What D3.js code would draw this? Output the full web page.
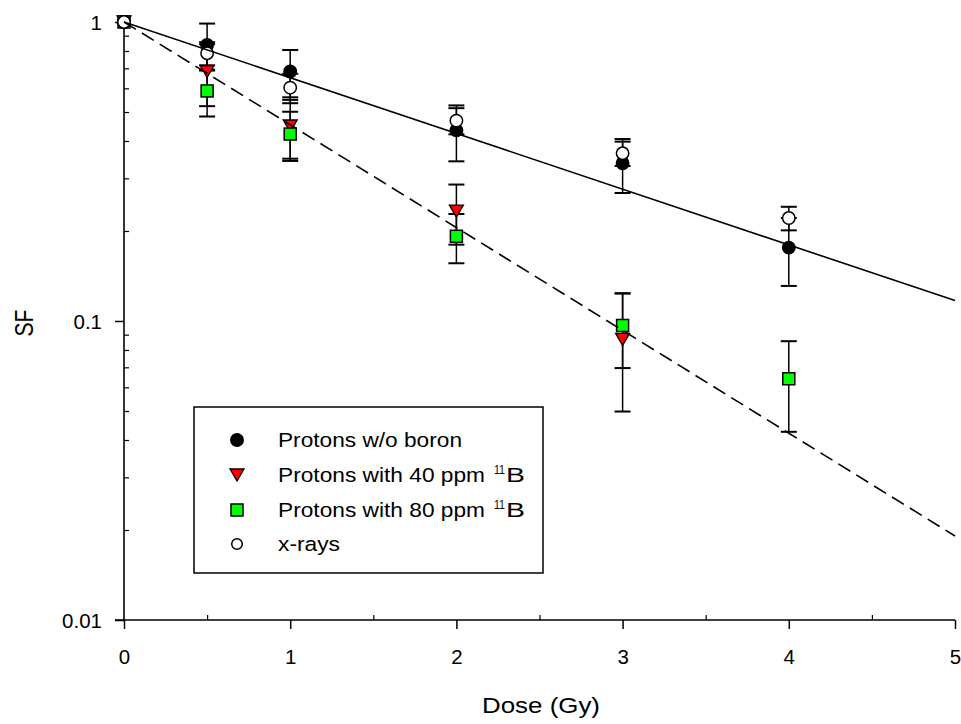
<!DOCTYPE html>
<html>
<head>
<meta charset="utf-8">
<script src="https://cdn.jsdelivr.net/npm/d3@7/dist/d3.min.js"></script>
<style>
  html, body { margin: 0; padding: 0; background: #fff; }
  svg { display: block; }
  text { font-family: "Liberation Sans", Arial, Helvetica, sans-serif; fill: #000; }
</style>
</head>
<body>
<svg id="chart" width="961" height="724"></svg>
<script>
// ---------------- data ----------------
const dosesAll = [0, 0.5, 1, 2, 3, 4];
const noBoronSF = [1, 0.838, 0.683, 0.434, 0.337, 0.176];
const noBoronErr = [0, 0.15, 0.123, 0.092, 0.069, 0.045];

const doses40 = [0, 0.5, 1, 2, 3];
const boron40SF = [1, 0.683, 0.449, 0.233, 0.0868];
const boron40Err = [0, 0.16, 0.10, 0.053, 0.037];

const boron80SF = [1, 0.588, 0.422, 0.192, 0.0966, 0.0641];
const boron80Err = [0, 0.105, 0.079, 0.036, 0.027, 0.0215];

const xraySF = [1, 0.786, 0.603, 0.468, 0.364, 0.221];
const xrayErr = [0, 0.07, 0.068, 0.047, 0.034, 0.02];

// fitted lines (endpoints of straight lines on log scale)
const fitDose = [0, 5];
const fitSolid = [1, 0.117];
const fitDashed = [1, 0.0191];

const xTicks = [0, 1, 2, 3, 4, 5];
const xMinorTicks = [0.5, 1.5, 2.5, 3.5, 4.5];
const yTicks = [1, 0.1, 0.01];
const yTickLabels = ["1", "0.1", "0.01"];

const legendLabels = ["Protons w/o boron", "Protons with 40 ppm", "Protons with 80 ppm", "x-rays"];

// ---------------- layout ----------------
const svg = d3.select("#chart");
const x = d3.scaleLinear().domain([0, 5]).range([124, 955]);
const y = d3.scaleLog().domain([0.01, 1]).range([620, 22]);

const yMinor = [];
[0.01, 0.1].forEach(base => { for (let k = 2; k <= 9; k++) yMinor.push(base * k); });

// ---------- axes ----------
const gx = svg.append("g").attr("transform", `translate(0,${y(0.01)})`);
gx.call(d3.axisBottom(x).tickValues(xTicks).tickSize(9).tickSizeOuter(0).tickFormat(d3.format("d")));
gx.attr("font-size", null).attr("font-family", null);
gx.select(".domain").attr("stroke-width", 1.6).attr("d", `M${x(0) - 9},0H${x(5)}`);
gx.selectAll(".tick line").attr("stroke-width", 1.5);
gx.selectAll(".tick text").attr("font-size", 20.5).attr("dy", null).attr("y", 44);

const gxMinor = svg.append("g").attr("transform", `translate(0,${y(0.01)})`);
gxMinor.call(d3.axisTop(x).tickValues(xMinorTicks).tickSize(5).tickFormat(""));
gxMinor.select(".domain").remove();
gxMinor.selectAll(".tick line").attr("stroke-width", 1.2);

const gy = svg.append("g").attr("transform", `translate(${x(0)},0)`);
gy.call(d3.axisLeft(y).tickValues(yTicks).tickSize(9).tickSizeOuter(0).tickPadding(13)
  .tickFormat((d, i) => yTickLabels[i]));
gy.attr("font-size", null).attr("font-family", null);
gy.select(".domain").attr("stroke-width", 1.6).attr("d", `M0,${y(1) - 2}V${y(0.01)}`);
gy.selectAll(".tick line").attr("stroke-width", 1.5);
gy.selectAll(".tick text").attr("font-size", 20.5).attr("dy", "0.36em");

const gyMinor = svg.append("g").attr("transform", `translate(${x(0)},0)`);
gyMinor.call(d3.axisRight(y).tickValues(yMinor).tickSize(5).tickFormat(""));
gyMinor.select(".domain").remove();
gyMinor.selectAll(".tick line").attr("stroke-width", 1.2);

// axis titles
svg.append("text").attr("x", 541).attr("y", 713).attr("text-anchor", "middle")
  .attr("font-size", 22).attr("textLength", 118).attr("lengthAdjust", "spacingAndGlyphs")
  .text("Dose (Gy)");
svg.append("text").attr("transform", "translate(33,323) rotate(-90)").attr("text-anchor", "middle")
  .attr("font-size", 26).attr("textLength", 27).attr("lengthAdjust", "spacingAndGlyphs")
  .text("SF");

// ---------- series ----------
const series = [
  { name: "noBoron", doses: dosesAll, sf: noBoronSF, err: noBoronErr, shape: "circle", fill: "#000" },
  { name: "b40", doses: doses40, sf: boron40SF, err: boron40Err, shape: "triangle", fill: "#ff0000" },
  { name: "b80", doses: dosesAll, sf: boron80SF, err: boron80Err, shape: "square", fill: "#00ff00" },
  { name: "xray", doses: dosesAll, sf: xraySF, err: xrayErr, shape: "circle", fill: "#fff" }
];

const capW = 8;
series.forEach(s => {
  const g = svg.append("g").attr("class", "err-" + s.name).attr("stroke", "#000").attr("stroke-width", 1.5).attr("fill", "none");
  s.doses.forEach((d, i) => {
    if (!s.err[i]) return;
    const cx = x(d);
    const yt = y(s.sf[i] + s.err[i]);
    const yb = y(s.sf[i] - s.err[i]);
    g.append("line").attr("x1", cx).attr("x2", cx).attr("y1", yt).attr("y2", yb);
    g.append("line").attr("x1", cx - capW).attr("x2", cx + capW).attr("y1", yt).attr("y2", yt).attr("stroke-width", 2);
    g.append("line").attr("x1", cx - capW).attr("x2", cx + capW).attr("y1", yb).attr("y2", yb).attr("stroke-width", 2);
  });
});

function drawMarker(g, shape, cx, cy, fill, scale) {
  const k = scale || 1;
  if (shape === "circle") {
    g.append("circle").attr("cx", cx).attr("cy", cy).attr("r", 6.2 * k)
      .attr("fill", fill).attr("stroke", "#000").attr("stroke-width", 1.5);
  } else if (shape === "square") {
    const h = 6 * k;
    g.append("rect").attr("x", cx - h).attr("y", cy - h).attr("width", 2 * h).attr("height", 2 * h)
      .attr("fill", fill).attr("stroke", "#000").attr("stroke-width", 1.5);
  } else if (shape === "triangle") {
    const w = 7 * k, h = 6 * k;
    g.append("path").attr("d", `M${cx - w},${cy - h}L${cx + w},${cy - h}L${cx},${cy + h}Z`)
      .attr("fill", fill).attr("stroke", "#000").attr("stroke-width", 1.3);
  }
}

series.forEach(s => {
  const g = svg.append("g").attr("class", "pts-" + s.name);
  s.doses.forEach((d, i) => drawMarker(g, s.shape, x(d), y(s.sf[i]), s.fill));
});

// fit lines
const lineGen = d3.line().x((d, i) => x(fitDose[i])).y(d => y(d));
svg.append("path").datum(fitSolid).attr("d", lineGen).attr("fill", "none")
  .attr("stroke", "#000").attr("stroke-width", 1.6);
svg.append("path").datum(fitDashed).attr("d", lineGen).attr("fill", "none")
  .attr("stroke", "#000").attr("stroke-width", 1.6).attr("stroke-dasharray", "14,7");

// ---------- legend ----------
const lg = svg.append("g").attr("class", "legend");
lg.append("rect").attr("x", 194).attr("y", 407).attr("width", 349).attr("height", 166)
  .attr("fill", "#fff").attr("stroke", "#000").attr("stroke-width", 1.5);

const legendBaselines = [447, 482, 517, 551];
const legendWidths = [184, 207, 207, 62];
series.forEach((s, i) => {
  const by = legendBaselines[i];
  drawMarker(lg, s.shape, 237, by - 7, s.fill, i === 3 ? 0.85 : 1);
  lg.append("text").attr("x", 278).attr("y", by).attr("font-size", 20.5)
    .attr("textLength", legendWidths[i]).attr("lengthAdjust", "spacingAndGlyphs")
    .text(legendLabels[i]);
  if (i === 1 || i === 2) {
    lg.append("text").attr("x", 494).attr("y", by - 8).attr("font-size", 12.5)
      .attr("textLength", 11).attr("lengthAdjust", "spacingAndGlyphs").text("11");
    lg.append("text").attr("x", 506).attr("y", by).attr("font-size", 20.5)
      .attr("textLength", 19).attr("lengthAdjust", "spacingAndGlyphs").text("B");
  }
});
</script>
</body>
</html>
